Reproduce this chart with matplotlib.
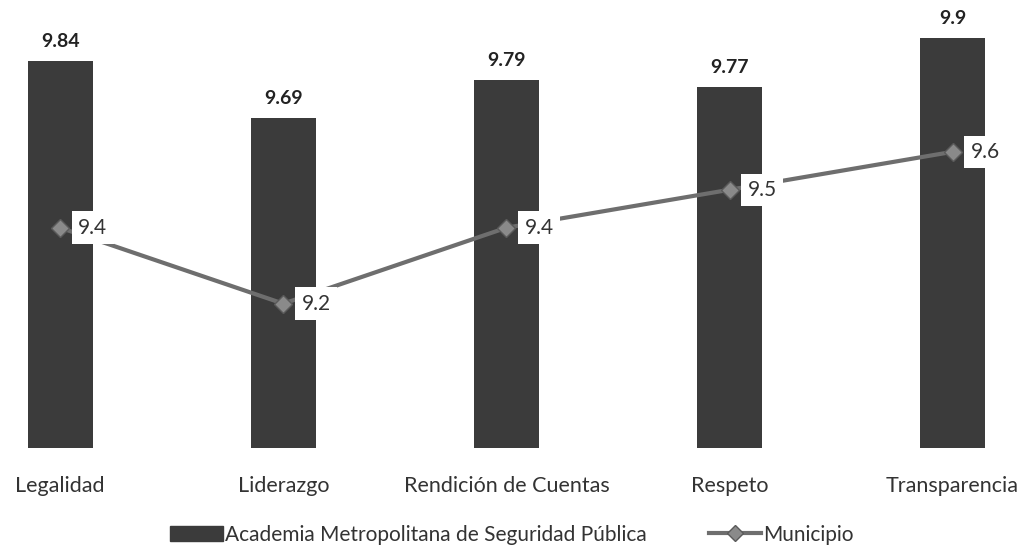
import matplotlib.pyplot as plt
from matplotlib.patches import Patch
from matplotlib.lines import Line2D

plt.rcParams['font.family'] = ['Lato', 'DejaVu Sans']

categorias = ["Legalidad", "Liderazgo", "Rendición de Cuentas", "Respeto", "Transparencia"]
academia = [9.84, 9.69, 9.79, 9.77, 9.9]
municipio = [9.4, 9.2, 9.4, 9.5, 9.6]

base = 8.82
color_barra = "#3b3b3b"
color_linea = "#6e6e6e"

fig = plt.figure(figsize=(10.24, 5.55), dpi=100)
ax = fig.add_axes([0, 0.193, 1, 0.807])

x = range(len(categorias))
ax.bar(x, [v - base for v in academia], bottom=base, width=0.29, color=color_barra)
ax.plot(x, municipio, color=color_linea, lw=3, marker="D", ms=9,
        mfc="#8a8a8a", mec="#5a5a5a", zorder=3)

for i, v in enumerate(academia):
    ax.annotate(f"{v:g}", (i, v), xytext=(0, 8), textcoords="offset points",
                ha="center", va="bottom", fontsize=14, fontweight="bold", color="#222222")

for i, v in enumerate(municipio):
    ax.annotate(f"{v:g}", (i, v), xytext=(13, 0), textcoords="offset points",
                ha="left", va="center", fontsize=15, color="#333333",
                bbox=dict(boxstyle="square,pad=0.3", fc="white", ec="none"), zorder=4)

ax.set_xlim(-0.27, 4.32)
ax.set_ylim(base, 10.0)
ax.set_xticks(list(x))
ax.set_xticklabels(categorias, fontsize=15.5, color="#333333")
ax.tick_params(axis="x", length=0, pad=20)
ax.set_yticks([])
for s in ax.spines.values():
    s.set_visible(False)

handles = [Patch(color=color_barra, label="Academia Metropolitana de Seguridad Pública"),
           Line2D([], [], color=color_linea, lw=3, marker="D", ms=8,
                  mfc="#8a8a8a", mec="#5a5a5a", label="Municipio")]
fig.legend(handles=handles, loc="lower center", bbox_to_anchor=(0.5, -0.015), ncol=2,
           frameon=False, fontsize=15, handlelength=2.5, columnspacing=3,
           handletextpad=0.1, labelcolor="#333333")

fig.savefig("out.png", dpi=100)
